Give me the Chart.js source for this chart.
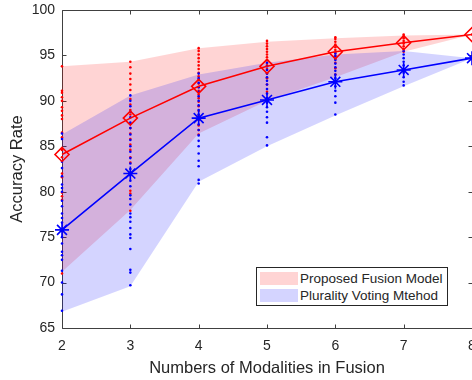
<!DOCTYPE html>
<html>
<head>
<meta charset="utf-8">
<script src="https://cdn.jsdelivr.net/npm/chart.js@4.4.1/dist/chart.umd.min.js"></script>
<style>
  html, body { margin: 0; padding: 0; background: #fff; }
  #wrap { position: relative; width: 472px; height: 380px; overflow: hidden; }
  #legend {
    position: absolute; left: 256px; top: 267px; width: 190px; height: 37px;
    border: 1px solid #262626; background: #fff;
    font-family: "Liberation Sans", Arial, sans-serif; font-size: 13.5px; color: #262626;
  }
  .row { position: absolute; left: 3px; height: 13px; }
  .patch { position: absolute; left: 0; top: 0; width: 38px; height: 13px; }
  .label { position: absolute; left: 40px; top: -1px; white-space: nowrap; line-height: 15px; }
</style>
</head>
<body>
<div id="wrap">
  <canvas id="chart" width="472" height="380"></canvas>
  <div id="legend">
    <div class="row" style="top:4px"><div class="patch" style="background:#ffd4d4"></div><div class="label">Proposed Fusion Model</div></div>
    <div class="row" style="top:21px"><div class="patch" style="background:#d4d4ff"></div><div class="label">Plurality Voting Mtehod</div></div>
  </div>
</div>
<script>
// number of modalities on the x axis
const modalities = [2, 3, 4, 5, 6, 7, 8];

// proposed fusion model (red)
const proposedMean = [84.1, 88.1, 91.6, 93.8, 95.4, 96.4, 97.3];
const proposedUpper = [93.8, 94.3, 95.8, 96.5, 96.9, 97.2, 97.3];
const proposedLower = [71.2, 78.0, 86.4, 90.0, 92.6, 95.4, 97.3];

// plurality voting (blue)
const pluralityMean = [75.8, 82.0, 88.1, 90.1, 92.1, 93.4, 94.7];
const pluralityUpper = [86.3, 90.6, 92.9, 94.2, 95.1, 95.5, 94.7];
const pluralityLower = [66.8, 69.6, 81.1, 85.0, 88.4, 91.6, 94.7];

// individual runs, one list per modality count
const proposedRuns = [
  [93.8, 91.1, 90.9, 90.4, 90.0, 89.3, 88.9, 88.4, 88.0, 86.5, 86.0, 84.6, 83.8, 82.0, 81.6, 79.9, 79.5, 79.1, 71.0],
  [94.3, 93.7, 93.0, 92.4, 91.8, 91.2, 90.2, 89.6, 89.0, 88.5, 87.5, 87.0, 86.4, 85.8, 85.2, 84.6, 83.8, 83.2, 80.1, 79.8, 77.9],
  [95.8, 95.5, 95.1, 94.7, 94.3, 93.9, 93.5, 93.1, 92.7, 92.3, 91.9, 91.5, 91.1, 90.7, 90.3, 89.9, 89.4, 88.9, 88.4, 87.9, 87.3, 86.8, 86.3],
  [96.6, 96.3, 96.0, 95.7, 95.4, 95.1, 94.8, 94.5, 94.2, 93.9, 93.5, 93.0, 92.5, 91.8, 91.0, 90.2],
  [97.0, 96.8, 96.5, 96.2, 95.9, 95.6, 95.3, 95.0, 94.6, 94.2, 93.6, 92.9],
  [97.3, 97.1, 96.9, 96.6, 96.3, 96.0, 95.7, 95.4],
  [97.3]
];
const pluralityRuns = [
  [86.4, 85.8, 83.3, 82.6, 81.7, 80.8, 80.4, 80.0, 79.0, 78.4, 77.6, 77.1, 76.6, 75.8, 75.0, 74.3, 73.4, 73.0, 72.5, 71.3, 70.0, 68.7, 66.9],
  [90.6, 90.0, 89.4, 88.8, 88.2, 87.6, 87.0, 86.3, 85.7, 85.0, 84.4, 83.7, 83.1, 82.5, 81.8, 81.2, 80.6, 79.6, 79.2, 78.6, 77.6, 77.2, 76.7, 76.0, 75.3, 74.9, 73.7, 71.4, 71.1, 69.7],
  [93.0, 92.5, 92.0, 91.5, 91.0, 90.5, 90.0, 89.5, 89.0, 88.5, 88.0, 87.4, 86.8, 86.2, 85.6, 85.0, 84.2, 83.4, 82.8, 81.3, 80.9],
  [94.2, 93.8, 93.4, 93.0, 92.6, 92.2, 91.8, 91.3, 90.8, 90.3, 89.8, 89.3, 88.8, 88.2, 87.6, 86.0, 85.1],
  [95.2, 94.9, 94.5, 94.1, 93.7, 93.3, 92.9, 92.5, 92.1, 91.6, 91.1, 90.5, 89.8, 88.5],
  [95.5, 95.1, 94.7, 94.3, 93.9, 93.5, 93.1, 92.6, 92.1, 91.7],
  [94.7]
];

const xTicks = [2, 3, 4, 5, 6, 7, 8];
const yTicks = [65, 70, 75, 80, 85, 90, 95, 100];

const FONT = '"Liberation Sans", Arial, sans-serif';

function toPoints(values) {
  return modalities.map((m, i) => ({ x: m, y: values[i] }));
}
function runPoints(runs) {
  let out = [];
  runs.forEach((list, i) => {
    list.forEach(v => out.push({ x: modalities[i], y: v }));
  });
  return out;
}

// box around the plot with inward tick marks (MATLAB style)
const axesBox = {
  id: 'axesBox',
  beforeDatasetsDraw(chart) {
    const { ctx, chartArea: a, scales } = chart;
    const L = Math.round(a.left) + 0.5, R = Math.round(a.right) + 0.5;
    const T = Math.round(a.top) + 0.5, B = Math.round(a.bottom) + 0.5;
    ctx.save();
    ctx.strokeStyle = '#404040';
    ctx.lineWidth = 1;
    ctx.beginPath();
    ctx.rect(L, T, R - L, B - T);
    xTicks.forEach(t => {
      const px = Math.round(scales.x.getPixelForValue(t)) + 0.5;
      ctx.moveTo(px, B); ctx.lineTo(px, B - 4);
      ctx.moveTo(px, T); ctx.lineTo(px, T + 4);
    });
    yTicks.forEach(t => {
      const py = Math.round(scales.y.getPixelForValue(t)) + 0.5;
      ctx.moveTo(L, py); ctx.lineTo(L + 4, py);
      ctx.moveTo(R, py); ctx.lineTo(R - 4, py);
    });
    ctx.stroke();
    ctx.restore();
  }
};

new Chart(document.getElementById('chart'), {
  type: 'line',
  data: {
    datasets: [
      { data: toPoints(proposedUpper), borderWidth: 0, pointRadius: 0, fill: '+1', backgroundColor: 'rgba(255,0,0,0.17)', order: 10 },
      { data: toPoints(proposedLower), borderWidth: 0, pointRadius: 0, fill: false, order: 10 },
      { data: toPoints(pluralityUpper), borderWidth: 0, pointRadius: 0, fill: '+1', backgroundColor: 'rgba(0,0,255,0.17)', order: 9 },
      { data: toPoints(pluralityLower), borderWidth: 0, pointRadius: 0, fill: false, order: 9 },
      { data: runPoints(proposedRuns), showLine: false, pointRadius: 1.3, pointBorderWidth: 0, pointBackgroundColor: '#ff0000', order: 8, clip: false },
      { data: runPoints(pluralityRuns), showLine: false, pointRadius: 1.3, pointBorderWidth: 0, pointBackgroundColor: '#0000ff', order: 7, clip: false },
      { data: toPoints(proposedMean), borderColor: '#ff0000', borderWidth: 1.6, pointStyle: 'rectRot', pointRadius: 7,
        pointBorderColor: '#ff0000', pointBackgroundColor: 'rgba(0,0,0,0)', pointBorderWidth: 1.6, order: 6, clip: false },
      { data: toPoints(pluralityMean), borderColor: '#0000ff', borderWidth: 1.6, pointStyle: 'star', pointRadius: 7,
        pointBorderColor: '#0000ff', pointBorderWidth: 1.6, order: 5, clip: false }
    ]
  },
  options: {
    responsive: false,
    animation: false,
    layout: { autoPadding: false, padding: { top: 10, right: 0, left: 0, bottom: 0 } },
    plugins: { legend: { display: false }, tooltip: { enabled: false } },
    scales: {
      x: {
        type: 'linear', min: 2, max: 8,
        afterFit(scale) { scale.height = 52; scale.paddingLeft = 0; scale.paddingRight = 0; },
        afterBuildTicks(scale) { scale.ticks = xTicks.map(v => ({ value: v })); },
        grid: { display: false, drawTicks: false },
        border: { display: false },
        ticks: { padding: 10, color: '#262626', font: { family: FONT, size: 14 }, maxRotation: 0 },
        title: { display: true, text: 'Numbers of Modalities in Fusion', color: '#262626',
                 font: { family: FONT, size: 16.5 }, padding: { top: 0, bottom: 2 } }
      },
      y: {
        type: 'linear', min: 65, max: 100,
        afterFit(scale) { scale.width = 62; scale.paddingTop = 0; scale.paddingBottom = 0; },
        afterBuildTicks(scale) { scale.ticks = yTicks.map(v => ({ value: v })); },
        grid: { display: false, drawTicks: false },
        border: { display: false },
        ticks: { padding: 7, color: '#262626', font: { family: FONT, size: 14 } },
        title: { display: true, text: 'Accuracy Rate', color: '#262626',
                 font: { family: FONT, size: 16.5 }, padding: { top: 8, bottom: 0 } }
      }
    }
  },
  plugins: [axesBox]
});
</script>
</body>
</html>
